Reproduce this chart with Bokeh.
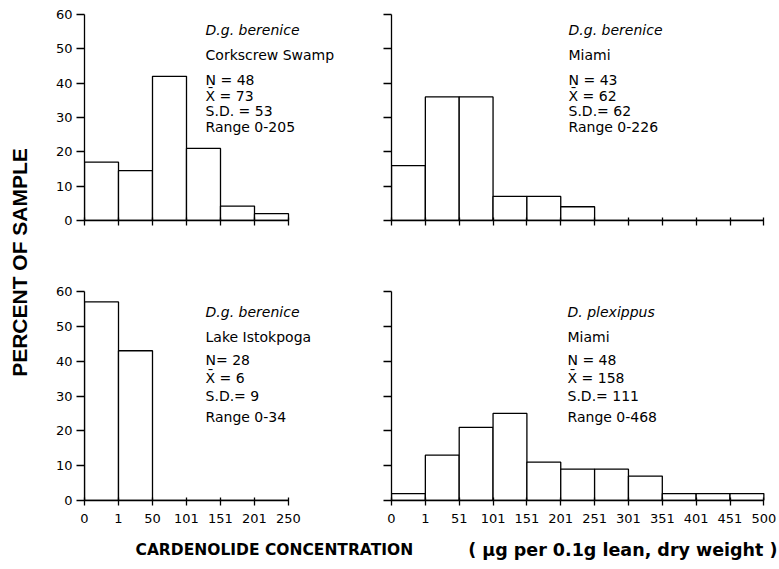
import math
from bokeh.plotting import figure
from bokeh.models import Range1d, FixedTicker, Label
from bokeh.layouts import row, column
from bokeh.embed import file_html
from bokeh.resources import INLINE

# ---------------- data ----------------
short_bins = ["0", "1", "50", "101", "151", "201", "250"]
long_bins = ["0", "1", "51", "101", "151", "201", "251", "301", "351", "401", "451", "500"]
y_ticks = [0, 10, 20, 30, 40, 50, 60]

corkscrew_pct = [17, 14.5, 42, 21, 4.2, 2]
miami_ber_pct = [16, 36, 36, 7, 7, 4, 0, 0, 0, 0, 0]
istokpoga_pct = [57, 43, 0, 0, 0, 0]
miami_plex_pct = [2, 13, 21, 25, 11, 9, 9, 7, 2, 2, 2]

corkscrew_txt = ["D.g. berenice", "Corkscrew Swamp", "N = 48", "X\u0304 = 73", "S.D. = 53", "Range 0-205"]
miami_ber_txt = ["D.g. berenice", "Miami", "N = 43", "X\u0304 = 62", "S.D.= 62", "Range 0-226"]
istokpoga_txt = ["D.g. berenice", "Lake Istokpoga", "N= 28", "X\u0304 = 6", "S.D.= 9", "Range 0-34"]
miami_plex_txt = ["D. plexippus", "Miami", "N = 48", "X\u0304 = 158", "S.D.= 111", "Range 0-468"]

y_title = "PERCENT OF SAMPLE"
x_title_main = "CARDENOLIDE CONCENTRATION"
x_title_unit = "( \u00b5g per 0.1g lean, dry weight )"

FONT = "DejaVu Sans"
TOP_LINES = [55.6, 48.3, 41.0, 36.4, 31.8, 27.1]
BOT_LINES = [54.0, 46.8, 40.2, 35.3, 30.1, 24.1]


def panel(values, bins, texts, text_x, lines, width, height, left_border, bottom_border,
          x_end, y_end, show_x_labels, show_y_labels):
    n = len(values)
    p = figure(width=width, height=height, output_backend="svg", toolbar_location=None,
               x_range=Range1d(0, x_end), y_range=Range1d(0, y_end),
               min_border_left=left_border, min_border_right=0,
               min_border_top=0, min_border_bottom=bottom_border)
    p.outline_line_color = None
    p.grid.visible = False
    p.background_fill_color = "white"
    p.border_fill_color = "white"

    p.quad(left=list(range(n)), right=list(range(1, n + 1)), bottom=0, top=values,
           fill_color="white", line_color="black", line_width=1.3)

    xa = p.xaxis[0]
    xa.ticker = FixedTicker(ticks=list(range(n + 1)), minor_ticks=[])
    xa.bounds = (0, n)
    xa.axis_line_width = 1.3
    xa.major_tick_line_width = 1.3
    xa.major_tick_in = 3
    xa.major_tick_out = 5
    xa.major_label_standoff = 8
    xa.major_label_text_font = FONT
    xa.major_label_text_font_size = "13px"
    xa.major_label_text_color = "black"
    if show_x_labels:
        xa.major_label_overrides = {i: bins[i] for i in range(n + 1)}
    else:
        xa.major_label_overrides = {i: "" for i in range(n + 1)}

    ya = p.yaxis[0]
    ya.ticker = FixedTicker(ticks=y_ticks, minor_ticks=[])
    ya.bounds = (0, 60)
    ya.axis_line_width = 1.3
    ya.major_tick_line_width = 1.3
    ya.major_tick_in = 0
    ya.major_tick_out = 8
    ya.major_label_standoff = 4
    ya.major_label_text_font = FONT
    ya.major_label_text_font_size = "13px"
    ya.major_label_text_color = "black"
    if not show_y_labels:
        ya.major_label_overrides = {t: "" for t in y_ticks}

    for i, (t, yy) in enumerate(zip(texts, lines)):
        p.add_layout(Label(x=text_x, y=yy, text=t, text_font=FONT, text_font_size="14px",
                           text_font_style="italic" if i == 0 else "normal",
                           text_align="left", text_baseline="middle", text_color="black"))
    return p


tl = panel(corkscrew_pct, short_bins, corkscrew_txt, 3.56, TOP_LINES, 320, 262, 44, 42,
           276 / 34.0, 220 / 3.433, False, True)
tr = panel(miami_ber_pct, long_bins, miami_ber_txt, 5.23, TOP_LINES, 419, 262, 31, 42,
           388 / 33.85, 220 / 3.433, False, False)
bl = panel(istokpoga_pct, short_bins, istokpoga_txt, 3.56, BOT_LINES, 320, 273, 44, 35,
           276 / 34.0, 238 / 3.483, True, True)
br = panel(miami_plex_pct, long_bins, miami_plex_txt, 5.2, BOT_LINES, 419, 273, 31, 35,
           388 / 33.85, 238 / 3.483, True, False)


def blank(width, height):
    p = figure(width=width, height=height, output_backend="svg", toolbar_location=None,
               x_range=Range1d(0, width), y_range=Range1d(height, 0),
               min_border=0)
    p.axis.visible = False
    p.grid.visible = False
    p.outline_line_color = None
    return p


ylab = blank(40, 535)
ylab.add_layout(Label(x=19, y=262, text=y_title, angle=math.pi / 2, text_align="center",
                      text_baseline="middle", text_font="Liberation Sans",
                      text_font_style="bold", text_font_size="21px", text_color="black"))

xlab = blank(779, 34)
xlab.add_layout(Label(x=135, y=14, text=x_title_main, text_align="left",
                      text_baseline="middle", text_font="DejaVu Sans",
                      text_font_style="bold", text_font_size="15.5px", text_color="black"))
xlab.add_layout(Label(x=777, y=14, text=x_title_unit, text_align="right",
                      text_baseline="middle", text_font="DejaVu Sans",
                      text_font_style="bold", text_font_size="17.5px", text_color="black"))

layout = column(row(ylab, column(row(tl, tr), row(bl, br))), xlab)

open("out.html", "w").write(file_html(layout, INLINE))
